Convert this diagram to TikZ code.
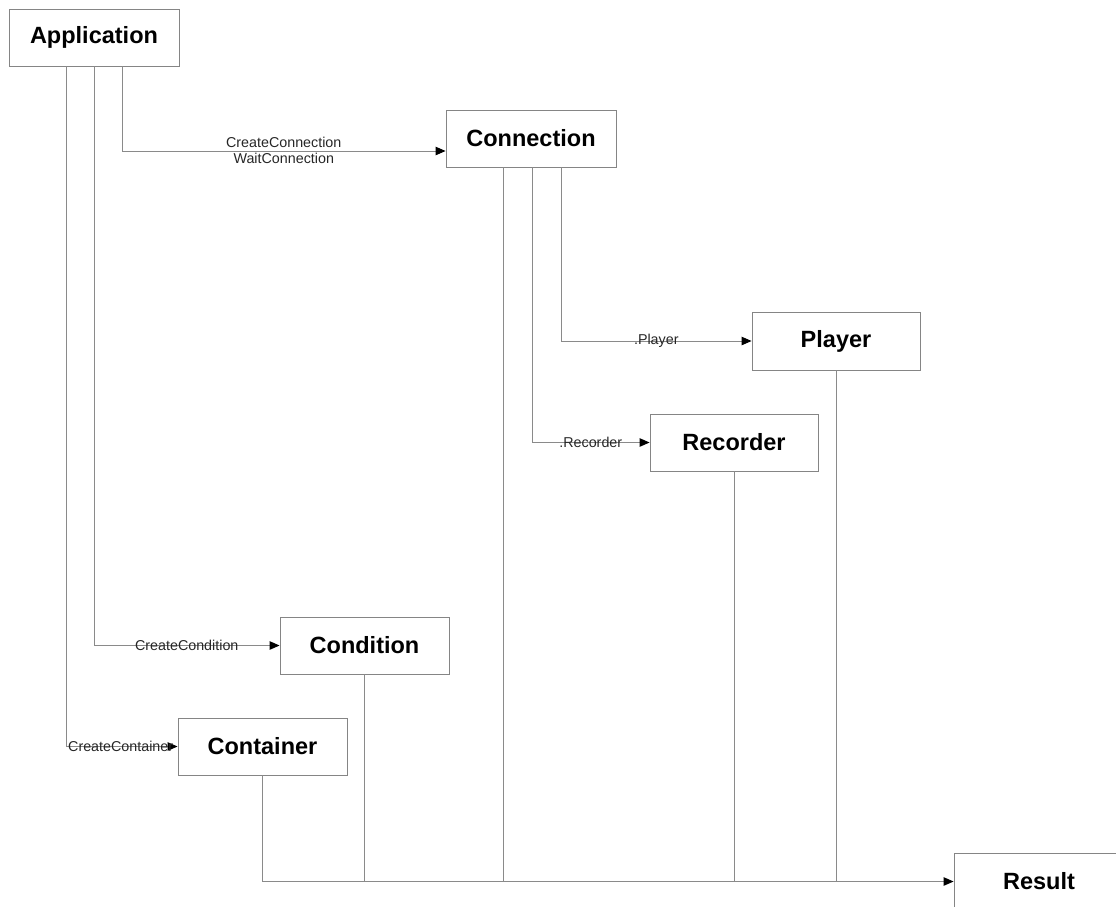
\documentclass[tikz,border=0pt]{standalone}
\usepackage{fontspec}
\setmainfont{Liberation Sans}
\usetikzlibrary{arrows.meta}
\definecolor{boxgray}{HTML}{858585}
\definecolor{linegray}{HTML}{8A8A8A}
\begin{document}
\begin{tikzpicture}[x=1pt,y=-1pt,
  box/.style={draw=boxgray, line width=0.9pt, fill=white, minimum width=170pt,
    minimum height=57pt, inner sep=0pt, font=\fontsize{23.5}{26}\selectfont\bfseries},
  conn/.style={draw=linegray, line width=1pt},
  arr/.style={conn, -{Triangle[length=10pt,width=8.5pt,color=black]}},
  lbl/.style={font=\fontsize{14.3}{16}\selectfont, text=black!85, inner sep=1pt}]
\useasboundingbox (0,0) rectangle (1116,907);
\clip (0,0) rectangle (1116,907);
% nodes
\node[box] (app) at (94,37.5) {Application};
\node[box] (con) at (531,138.5) {Connection};
\node[box, minimum width=168pt, minimum height=58pt] (ply) at (836,341) {Player};
\node[box, minimum width=168pt] (rec) at (734,442.5) {Recorder};
\node[box, minimum width=169pt] (cnd) at (364.5,645.5) {Condition};
\node[box, minimum width=169pt] (ctn) at (262.5,746.5) {Container};
\node[box] (res) at (1039,881.5) {Result};
% connectors from Application
\draw[arr] ([xshift=28pt]app.south) |- ([yshift=-12.5pt]con.west)
  node[lbl, pos=0.75, anchor=south, inner sep=2.5pt] {CreateConnection}
  node[lbl, pos=0.75, anchor=north, inner sep=2pt] {WaitConnection};
\draw[arr] (app.south) |- (cnd.west) node[lbl, pos=0.75] {CreateCondition};
\draw[arr] ([xshift=-28pt]app.south) |- (ctn.west) node[lbl, pos=0.745] {CreateContainer};
% connectors from Connection
\draw[arr] ([xshift=30pt]con.south) |- (ply.west) node[lbl, pos=0.75] {.Player};
\draw[arr] ([xshift=1pt]con.south) |- (rec.west) node[lbl, pos=0.75] {.Recorder};
% to Result
\draw[arr] (ctn.south) |- (res.west);
\draw[conn] (cnd.south) -- (cnd.south |- res.west);
\draw[conn] ([xshift=-28pt]con.south) -- ([xshift=-28pt]con.south |- res.west);
\draw[conn] (rec.south) -- (rec.south |- res.west);
\draw[conn] (ply.south) -- (ply.south |- res.west);
\end{tikzpicture}
\end{document}
